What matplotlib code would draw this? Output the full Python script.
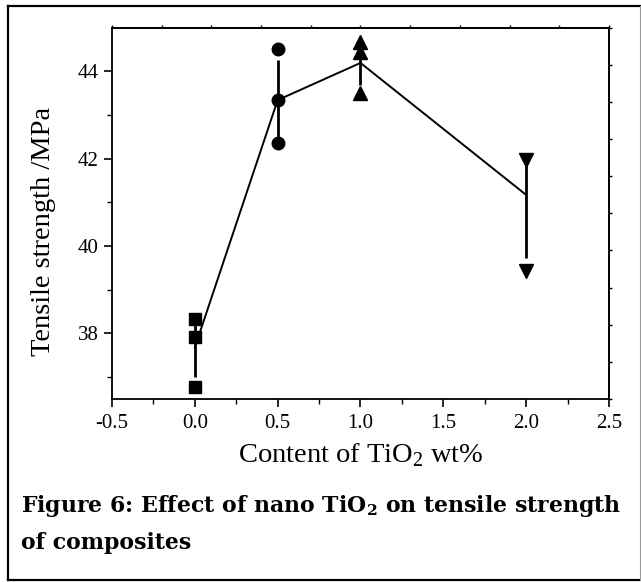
import matplotlib
matplotlib.use('Agg')
import matplotlib.pyplot as plt
from matplotlib.lines import Line2D
import numpy as np

plt.rcParams['font.family'] = ['Liberation Serif', 'DejaVu Serif']
plt.rcParams['mathtext.fontset'] = 'custom'
plt.rcParams['mathtext.rm'] = 'Liberation Serif'
plt.rcParams['mathtext.bf'] = 'DejaVu Serif:bold'

# TiO2 content (wt%)
content = [0.0, 0.5, 1.0, 2.0]
# individual tensile strength readings at each content (MPa)
strength_runs = [
    [38.32, 37.93, 36.77],
    [44.50, 43.34, 42.36],
    [44.66, 44.43, 43.50],
    [41.97, 39.44],
]
# averaged curve and its error bars, as drawn
mean_strength = [37.68, 43.34, 44.19, 41.17]
err_low = [0.68, 0.89, 0.51, 1.45]
err_high = [0.68, 0.91, 0.50, 0.78]

markers = ['s', 'o', '^', 'v']
marker_sizes = [8, 9, 10, 10]

x_ticks = [-0.5, 0.0, 0.5, 1.0, 1.5, 2.0, 2.5]
y_ticks = [38, 40, 42, 44]

fig = plt.figure(figsize=(6.41, 5.82), dpi=100)
ax = fig.add_axes([0.1747, 0.3144, 0.7754, 0.6383])

# mean line and error bars
ax.plot(content, mean_strength, color='black', linewidth=1.4, zorder=2)
ax.errorbar(content, mean_strength, yerr=[err_low, err_high], fmt='none',
            ecolor='black', elinewidth=2.0, capsize=0, zorder=2)

# individual readings
for xv, runs, m, ms in zip(content, strength_runs, markers, marker_sizes):
    ax.plot([xv] * len(runs), runs, linestyle='none', marker=m,
            markersize=ms, color='black', zorder=3)

ax.set_xlim(-0.5, 2.5)
ax.set_ylim(36.5, 45)
ax.set_xticks(x_ticks)
ax.set_xticklabels([f'{v:.1f}' for v in x_ticks])
ax.set_xticks(np.arange(-0.25, 2.5, 0.5), minor=True)
ax.set_yticks(y_ticks)
ax.set_yticks([37, 39, 41, 43], minor=True)

for s in ax.spines.values():
    s.set_linewidth(1.3)
ax.tick_params(which='major', direction='out', length=5.5, width=1.2,
               labelsize=15)
ax.tick_params(axis='x', which='major', pad=5)
ax.tick_params(axis='y', which='major', pad=4)
ax.tick_params(which='minor', direction='out', length=3.5, width=1.0)

ax.set_xlabel(r'Content of TiO$_{2}$ wt%', fontsize=20.5)
ax.xaxis.set_label_coords(0.5, -0.113)
ax.set_ylabel('Tensile strength /MPa', fontsize=20.5)
ax.yaxis.set_label_coords(-0.112, 0.452)

# small unlabelled ticks on the top and right frame
top = ax.secondary_xaxis('top')
top.set_xticks(np.linspace(-0.5, 2.5, 11))
top.tick_params(direction='out', length=2.5, width=1.0, labeltop=False)
top.spines['top'].set_linewidth(1.3)
right = ax.secondary_yaxis('right')
right.set_yticks(np.linspace(36.5, 45, 11))
right.tick_params(direction='out', length=2.5, width=1.0, labelright=False)
right.spines['right'].set_linewidth(1.3)

# caption
cap_font = dict(family=['DejaVu Serif'], fontsize=15.8, fontweight='bold',
                ha='left', va='baseline')
fig.text(0.032, 1 - 512 / 582, r'Figure 6: Effect of nano TiO$_\mathbf{2}$ on tensile strength',
         **cap_font)
fig.text(0.032, 1 - 549 / 582, 'of composites', **cap_font)

# outer frame
X0, X1, Y0, Y1 = 8 / 641, 640 / 641, 1 - 580 / 582, 1 - 6 / 582
fig.add_artist(Line2D([X0, X0], [Y0, Y1], color='black', lw=1.6, transform=fig.transFigure))
fig.add_artist(Line2D([X0, X1], [Y1, Y1], color='black', lw=1.6, transform=fig.transFigure))
fig.add_artist(Line2D([X0, X1], [Y0, Y0], color='black', lw=1.6, transform=fig.transFigure))
fig.add_artist(Line2D([X1, X1], [Y0, Y1], color='#9a9a9a', lw=0.8, transform=fig.transFigure))

fig.savefig('out.png', dpi=100)
